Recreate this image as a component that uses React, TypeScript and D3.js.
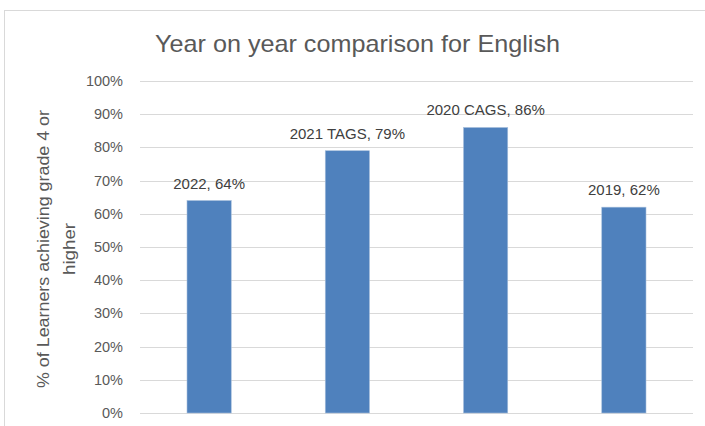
import React from "react";
import * as d3 from "d3";

const categories = ["2022", "2021 TAGS", "2020 CAGS", "2019"];
const values = [0.64, 0.79, 0.86, 0.62];
const yTicks = [0, 0.1, 0.2, 0.3, 0.4, 0.5, 0.6, 0.7, 0.8, 0.9, 1.0];
const title = "Year on year comparison for English";
const yTitleLines = ["% of Learners achieving grade 4 or", "higher"];

const W = 705;
const H = 426;
const margin = { left: 140, right: 12, top: 81, bottom: 13 };
const font = "'Liberation Sans', Arial, sans-serif";

export default function App() {
  const x = d3
    .scaleBand<string>()
    .domain(categories)
    .range([margin.left, W - margin.right])
    .paddingInner(0.68)
    .paddingOuter(0.34);
  const y = d3
    .scaleLinear()
    .domain([0, 1])
    .range([H - margin.bottom, margin.top]);
  const fmt = d3.format(".0%");

  return (
    <svg
      width={W}
      height={H}
      style={{ position: "absolute", left: 0, top: 0, background: "#fff" }}
    >
      <rect x={4.5} y={10.5} width={W + 10} height={H + 10} fill="#fff" stroke="#d9d9d9" strokeWidth={1} />
      <text
        x={357.5}
        y={52}
        textAnchor="middle"
        fontFamily={font}
        fontSize={24}
        textLength={405}
        lengthAdjust="spacingAndGlyphs"
        fill="#595959"
      >
        {title}
      </text>
      {yTicks.map((t) => (
        <g key={t}>
          <line
            x1={margin.left}
            x2={W - margin.right}
            y1={Math.round(y(t)) + 0.5}
            y2={Math.round(y(t)) + 0.5}
            stroke="#d9d9d9"
            strokeWidth={1}
          />
          <text
            x={123}
            y={y(t)}
            dy="0.35em"
            textAnchor="end"
            fontFamily={font}
            fontSize={14.5}
            fill="#595959"
          >
            {fmt(t)}
          </text>
        </g>
      ))}
      <g transform="translate(0,249) rotate(-90)">
        {yTitleLines.map((l, i) => (
          <text
            key={i}
            x={0}
            y={49 + i * 26}
            textAnchor="middle"
            fontFamily={font}
            fontSize={16}
            textLength={i === 0 ? 278 : 52}
            lengthAdjust="spacingAndGlyphs"
            fill="#595959"
          >
            {l}
          </text>
        ))}
      </g>
      {categories.map((c, i) => (
        <g key={c}>
          <rect
            x={x(c)!}
            y={y(values[i])}
            width={x.bandwidth()}
            height={y(0) - y(values[i])}
            fill="#4f81bd"
            stroke="#a7bfdc"
            strokeWidth={0.6}
          />
          <text
            x={x(c)! + x.bandwidth() / 2}
            y={y(values[i]) - 12}
            textAnchor="middle"
            fontFamily={font}
            fontSize={15}
            fill="#404040"
          >
            {`${c}, ${fmt(values[i])}`}
          </text>
        </g>
      ))}
    </svg>
  );
}
